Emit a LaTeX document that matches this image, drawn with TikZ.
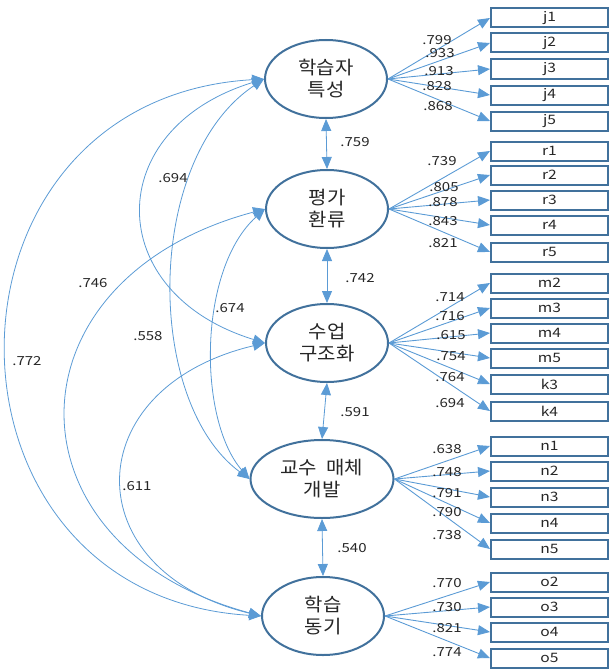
\documentclass[tikz,border=0pt]{standalone}
\usepackage{fontspec}
\setmainfont{Noto Sans CJK KR}
\newfontfamily\numfont[FakeStretch=1.2]{Noto Sans CJK KR}
\newfontfamily\wideko[FakeStretch=1.08]{Noto Sans CJK KR}
\usetikzlibrary{shapes.geometric,arrows.meta}
\definecolor{outl}{HTML}{41719C}
\definecolor{arr}{HTML}{5B9BD5}
\definecolor{txt}{HTML}{262626}
\begin{document}
\begin{tikzpicture}[x=1pt,y=-1pt,
  factor/.style={ellipse, draw=outl, line width=2pt, minimum width=122pt, minimum height=78pt, inner sep=0pt, align=center, font={\wideko\fontsize{18.5}{22}\selectfont}, text=txt},
  obsbox/.style={rectangle, draw=outl, line width=2pt, minimum width=117pt, minimum height=19pt, inner sep=0pt, font={\numfont\fontsize{13}{14}\selectfont}, text=txt},
  load/.style={draw=arr, line width=0.9pt, -{Triangle[length=12pt,width=10pt]}},
  cov/.style={draw=arr, line width=0.8pt, {Triangle[length=12pt,width=10pt]}-{Triangle[length=12pt,width=10pt]}},
  coef/.style={font={\numfont\fontsize{12.5}{13}\selectfont}, text=txt, inner sep=0pt}
]
\useasboundingbox (0,0) rectangle (611,669);

% factors
\node[factor] (e1) at (326,79) {학습자\\특성};
\node[factor] (e2) at (327,209) {평가\\환류};
\node[factor] (e3) at (327,343) {수업\\구조화};
\node[factor, minimum width=143pt] (e4) at (322,479) {교수\hspace{0.5em}매체\\개발};
\node[factor] (e5) at (323,616) {학습\\동기};

% observed boxes
\foreach \n/\y in {j1/18, j2/43, j3/69, j4/95, j5/121,
                   r1/151, r2/175, r3/200, r4/225, r5/252,
                   m2/283, m3/308, m4/333, m5/358, k3/384, k4/411,
                   n1/446, n2/471, n3/497, n4/523, n5/549,
                   o2/582, o3/607, o4/632, o5/658}
  \node[obsbox] (\n) at (549.5,\y) {\n};

% loadings
\foreach \b in {j1,j2,j3,j4,j5} \draw[load] (e1.east) -- (\b.west);
\foreach \b in {r1,r2,r3,r4,r5} \draw[load] (e2.east) -- (\b.west);
\foreach \b in {m2,m3,m4,m5,k3,k4} \draw[load] (e3.east) -- (\b.west);
\foreach \b in {n1,n2,n3,n4,n5} \draw[load] (e4.east) -- (\b.west);
\foreach \b in {o2,o3,o4,o5} \draw[load] (e5.east) -- (\b.west);

% loading labels
\foreach \t/\x/\y [count=\i] in {.799/437/40, .933/440/53, .913/439/71, .828/437/86, .868/438/106,
  .739/442/161, .805/444/187, .878/443/202, .843/443/221, .821/443/243,
  .714/450/297, .716/450/316, .615/451/335, .754/451/356, .764/450/377, .694/450/403,
  .638/447/449, .748/447/472, .791/447/493, .790/447/512, .738/447/535,
  .770/447/583, .730/447/607, .821/447/628, .774/447/652}
  \node[coef] (ld\i) at (\x,\y) {\t};

% vertical correlations
\draw[cov] (e1.south) -- (e2.north);
\draw[cov] (e2.south) -- (e3.north);
\draw[cov] (e3.south) -- (e4.north);
\draw[cov] (e4.south) -- (e5.north);
\node[coef] (c12) at (355,142) {.759};
\node[coef] (c23) at (360,278) {.742};
\node[coef] (c34) at (355,412) {.591};
\node[coef] (c45) at (352,548) {.540};

% curved covariances
\draw[cov] (e1.west) .. controls +(-342,20) and +(-339,-20) .. (e5.west);
\draw[cov] (e1.west) .. controls +(-163,50) and +(-163,-50) .. (e3.west);
\draw[cov] (e1.west) .. controls +(-120,80) and +(-105,-77) .. (e4.west);
\draw[cov] (e2.west) .. controls +(-67,60) and +(-52,-60) .. (e4.west);
\draw[cov] (e2.west) .. controls +(-263,70) and +(-260,-70) .. (e5.west);
\draw[cov] (e3.west) .. controls +(-189,45) and +(-186,-45) .. (e5.west);

\node[coef] (c15) at (27,361) {.772};
\node[coef] (c13) at (173,178) {.694};
\node[coef] (c25) at (93,283) {.746};
\node[coef] (c14) at (148,336) {.558};
\node[coef] (c24) at (230,308) {.674};
\node[coef] (c35) at (137,486) {.611};
\end{tikzpicture}
\end{document}
